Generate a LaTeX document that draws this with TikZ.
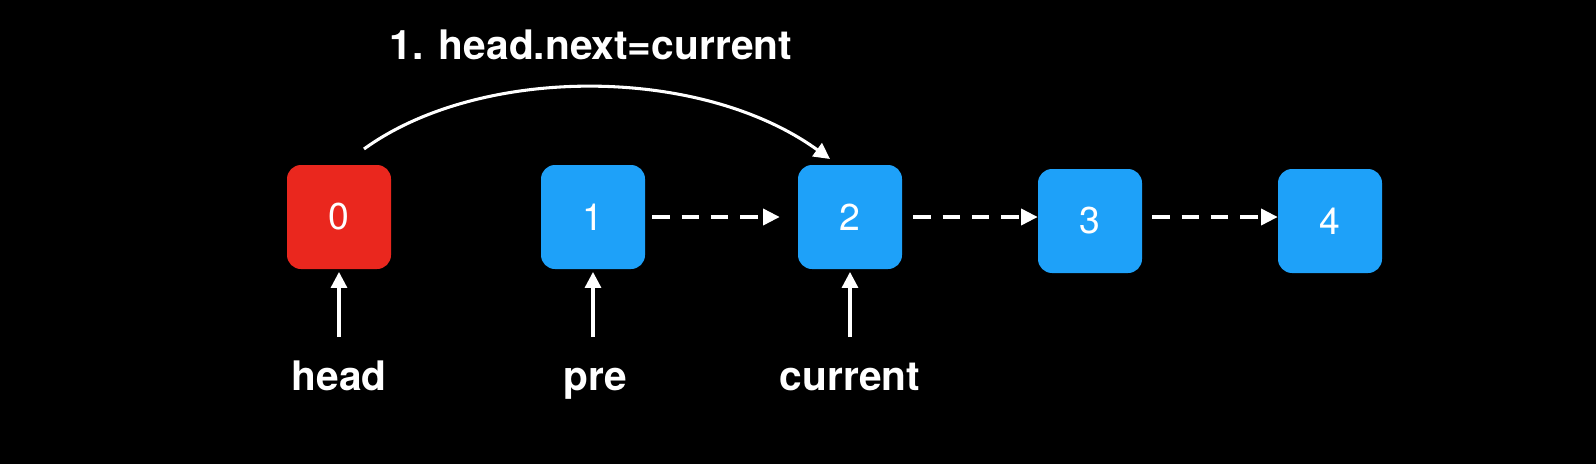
\documentclass[tikz,border=0pt]{standalone}
\usepackage{fontspec}
\setmainfont{TeX Gyre Heros}
\usetikzlibrary{arrows.meta}
\definecolor{nodeblue}{RGB}{30,161,249}
\definecolor{nodered}{RGB}{234,39,30}
\begin{document}
\begin{tikzpicture}[x=0.75pt,y=-0.75pt,
  box/.style={rounded corners=10.5pt, minimum width=78pt, minimum height=78pt, inner sep=0pt, text=white, font=\fontsize{28}{30}\selectfont},
  bluebox/.style={box, fill=nodeblue},
  redbox/.style={box, fill=nodered},
  lbl/.style={text=white, font=\bfseries\fontsize{30.5}{34}\selectfont, anchor=base, inner sep=0pt},
  ptr/.style={draw=white, line width=2.3pt, -{Triangle[length=12pt,width=12pt]}},
  nextarrow/.style={draw=white, line width=2.7pt, dash pattern=on 13pt off 9pt, -{Triangle[length=12.5pt,width=12pt]}},
]
\fill[black] (0,0) rectangle (1596,464);
\useasboundingbox (0,0) rectangle (1596,464);

\node[redbox]  (b0) at (339,217) {0};
\node[bluebox] (b1) at (593,217) {1};
\node[bluebox] (b2) at (850,217) {2};
\node[bluebox] (b3) at (1090,221) {3};
\node[bluebox] (b4) at (1330,221) {4};

\node[lbl] (title) at (591,59) {1. head.next=current};
\node[lbl] (lh) at (339,390) {head};
\node[lbl] (lp) at (595,390) {pre};
\node[lbl] (lc) at (850,390) {current};

\coordinate (ph) at (339,337);
\coordinate (pp) at (593,337);
\coordinate (pc) at (850,337);
\draw[ptr, shorten >=2pt] (ph) -- (b0.south);
\draw[ptr, shorten >=2pt] (pp) -- (b1.south);
\draw[ptr, shorten >=2pt] (pc) -- (b2.south);

\coordinate (cs) at (364,149);
\coordinate (ce) at (830,159);
\draw[ptr] (cs) .. controls (480,65) and (700,65) .. (ce);

\draw[nextarrow, shorten <=5.25pt, shorten >=13.5pt] (b1.east) -- (b2.west);
\draw[nextarrow, shorten <=8.25pt] (b2.east) -- (b3.west |- b2.east);
\draw[nextarrow, shorten <=7.5pt] (b3.east |- b2.east) -- (b4.west |- b2.east);
\end{tikzpicture}
\end{document}
